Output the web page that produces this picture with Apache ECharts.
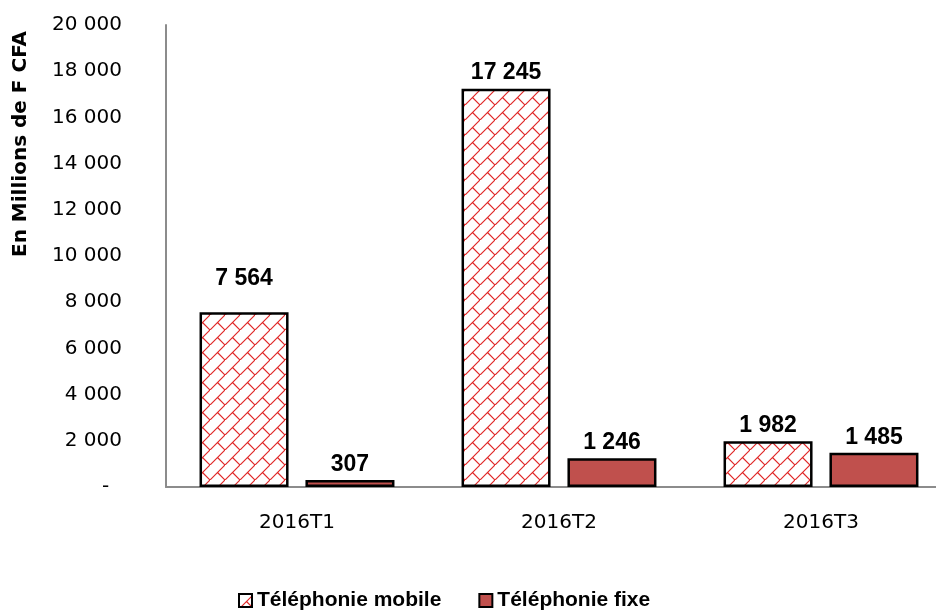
<!DOCTYPE html>
<html>
<head>
<meta charset="utf-8">
<script src="https://cdn.jsdelivr.net/npm/echarts@6/dist/echarts.min.js"></script>
<style>
  html, body { margin: 0; padding: 0; background: #fff; overflow: hidden; }
  /* le graphique d'origine est recadré à droite : zone plus large que la fenêtre */
  #chart { width: 952px; height: 611px; }
</style>
</head>
<body>
<div id="chart"></div>
<script>
// données
var categories = ['2016T1', '2016T2', '2016T3'];
var mobileValues = [7564, 17245, 1982];
var fixeValues = [307, 1246, 1485];
var seriesNames = ['Téléphonie mobile', 'Téléphonie fixe'];
var yTicks = [0, 2000, 4000, 6000, 8000, 10000, 12000, 14000, 16000, 18000, 20000];
var yTitle = 'En Millions de F CFA';

// motif "brique diagonale" rouge
function makePattern () {
  var s = 15;
  var c = document.createElement('canvas');
  c.width = s; c.height = s;
  var ctx = c.getContext('2d');
  ctx.fillStyle = '#fff';
  ctx.fillRect(0, 0, s, s);
  ctx.strokeStyle = '#e02828';
  ctx.lineWidth = 1.2;
  ctx.beginPath();
  ctx.moveTo(-1, s + 1); ctx.lineTo(s + 1, -1);
  ctx.moveTo(s / 2, s / 2); ctx.lineTo(s + 1, s + 1);
  ctx.stroke();
  return c;
}

function fmt (v) {
  if (v === 0) return '-  ';
  return String(v).replace(/\B(?=(\d{3})+(?!\d))/g, ' ');
}

var labelFont = '"Liberation Sans Narrow", "Arial Narrow", "Liberation Sans", sans-serif';
var axisFont = '"DejaVu Sans", sans-serif';

var myChart = echarts.init(document.getElementById('chart'));
var pattern = { image: makePattern(), repeat: 'repeat' };

var barLabel = {
  show: true,
  position: 'top',
  distance: 4,
  formatter: function (p) { return fmt(p.value); },
  color: '#000',
  fontFamily: labelFont,
  fontWeight: 'bold',
  fontSize: 23
};

myChart.setOption({
  animation: false,
  grid: { left: 166, right: 0, top: 25, bottom: 124, containLabel: false },
  legend: {
    left: 233,
    top: 585,
    itemWidth: 13,
    itemHeight: 13,
    itemGap: 37,
    icon: 'rect',
    data: seriesNames,
    textStyle: { color: '#000', fontFamily: labelFont, fontWeight: 'bold', fontSize: 21 }
  },
  graphic: [{
    type: 'text',
    x: 21,
    y: 144,
    rotation: Math.PI / 2,
    style: {
      text: yTitle,
      fill: '#000',
      font: 'bold 20px "DejaVu Sans", sans-serif',
      align: 'center',
      verticalAlign: 'middle'
    }
  }],
  xAxis: {
    type: 'category',
    data: categories,
    axisLine: { lineStyle: { color: '#8c8c8c', width: 2 } },
    axisTick: { show: false },
    axisLabel: { color: '#000', fontFamily: axisFont, fontSize: 20, margin: 26 }
  },
  yAxis: {
    type: 'value',
    min: yTicks[0],
    max: yTicks[yTicks.length - 1],
    interval: yTicks[1] - yTicks[0],
    axisLine: { show: true, lineStyle: { color: '#8c8c8c', width: 2 } },
    axisTick: { show: false },
    splitLine: { show: false },
    axisLabel: { color: '#000', fontFamily: axisFont, fontSize: 20, margin: 44, formatter: fmt }
  },
  series: [
    {
      name: seriesNames[0],
      type: 'bar',
      barGap: '19%',
      barCategoryGap: '25.6%',
      data: mobileValues.map(function (v, i) {
        // étiquette du premier trimestre remontée comme dans l'original
        return i === 0 ? { value: v, label: { distance: 22 } } : v;
      }),
      itemStyle: { color: pattern, borderColor: '#000', borderWidth: 2.5 },
      label: barLabel
    },
    {
      name: seriesNames[1],
      type: 'bar',
      data: fixeValues,
      itemStyle: { color: '#c0504d', borderColor: '#000', borderWidth: 2.5 },
      label: barLabel
    }
  ]
});
</script>
</body>
</html>
